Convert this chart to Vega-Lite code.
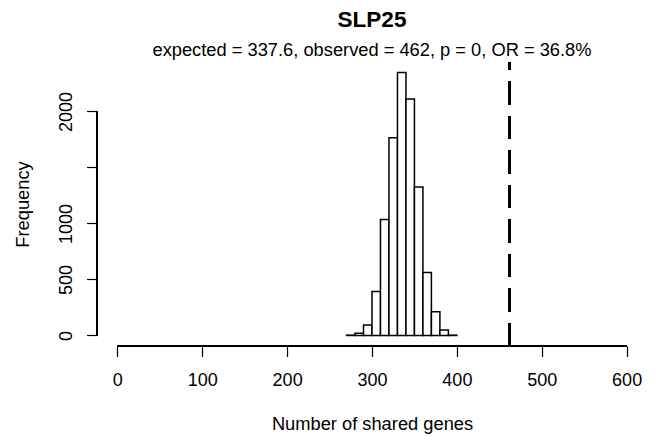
{
  "$schema": "https://vega.github.io/schema/vega-lite/v6.json",
  "width": 550,
  "height": 284,
  "autosize": {"type": "none"},
  "padding": {"left": 97, "top": 62, "right": 10, "bottom": 91},
  "background": "white",
  "config": {
    "view": {"stroke": null},
    "font": "Liberation Sans",
    "axis": {"grid": false, "domain": false, "tickColor": "black", "tickWidth": 1.2, "tickSize": 10.5, "labelColor": "black", "titleColor": "black", "labelFont": "Liberation Sans", "titleFont": "Liberation Sans", "labelFontSize": 18, "titleFontSize": 18.3, "titleFontWeight": "normal"}
  },
  "title": {
    "text": "SLP25",
    "subtitle": "expected = 337.6, observed = 462, p = 0, OR = 36.8%",
    "font": "Liberation Sans",
    "fontSize": 22.5,
    "fontWeight": "bold",
    "color": "black",
    "subtitleFont": "Liberation Sans",
    "subtitleFontSize": 18.3,
    "subtitleColor": "black",
    "subtitlePadding": 10,
    "anchor": "middle",
    "offset": 1.7
  },
  "data": {
    "values": [
      {"bin_start": 270, "bin_end": 280, "count": 3},
      {"bin_start": 280, "bin_end": 290, "count": 20},
      {"bin_start": 290, "bin_end": 300, "count": 94},
      {"bin_start": 300, "bin_end": 310, "count": 393},
      {"bin_start": 310, "bin_end": 320, "count": 1036},
      {"bin_start": 320, "bin_end": 330, "count": 1765},
      {"bin_start": 330, "bin_end": 340, "count": 2348},
      {"bin_start": 340, "bin_end": 350, "count": 2112},
      {"bin_start": 350, "bin_end": 360, "count": 1326},
      {"bin_start": 360, "bin_end": 370, "count": 563},
      {"bin_start": 370, "bin_end": 380, "count": 211},
      {"bin_start": 380, "bin_end": 390, "count": 49},
      {"bin_start": 390, "bin_end": 400, "count": 3}
    ]
  },
  "layer": [
    {
      "mark": {"type": "bar", "fill": "white", "stroke": "black", "strokeWidth": 1.5, "cornerRadius": 0},
      "encoding": {
        "x": {
          "field": "bin_start", "type": "quantitative",
          "scale": {"domain": [-24, 624], "nice": false, "zero": false},
          "axis": {
            "values": [0, 100, 200, 300, 400, 500, 600],
            "title": "Number of shared genes",
            "labelBaseline": "alphabetic",
            "labelPadding": 28.5,
            "titleX": 275,
            "titleY": 83,
            "titleBaseline": "alphabetic",
            "titleAnchor": "middle"
          }
        },
        "x2": {"field": "bin_end"},
        "y": {
          "field": "count", "type": "quantitative",
          "scale": {"domain": [-94, 2442], "nice": false, "zero": false},
          "axis": {
            "values": [0, 500, 1000, 1500, 2000],
            "labelExpr": "datum.value == 1500 ? '' : datum.label",
            "format": "d",
            "labelAngle": -90,
            "labelAlign": "center",
            "labelBaseline": "alphabetic",
            "labelPadding": 15.5,
            "title": "Frequency",
            "titleAngle": -90,
            "titleX": -69,
            "titleY": 142,
            "titleBaseline": "alphabetic",
            "titleAlign": "center"
          }
        },
        "y2": {"datum": 0}
      }
    },
    {
      "mark": {"type": "rule", "color": "black", "strokeWidth": 1.2},
      "encoding": {
        "x": {"datum": 0},
        "x2": {"datum": 600},
        "y": {"datum": -94}
      }
    },
    {
      "mark": {"type": "rule", "color": "black", "strokeWidth": 1.2},
      "encoding": {
        "x": {"datum": -24},
        "y": {"datum": 0},
        "y2": {"datum": 2000}
      }
    },
    {
      "mark": {"type": "rule", "color": "black", "strokeWidth": 3, "strokeDash": [23, 11.5]},
      "encoding": {
        "x": {"datum": 462},
        "y": {"datum": -94},
        "y2": {"datum": 2442}
      }
    }
  ]
}
